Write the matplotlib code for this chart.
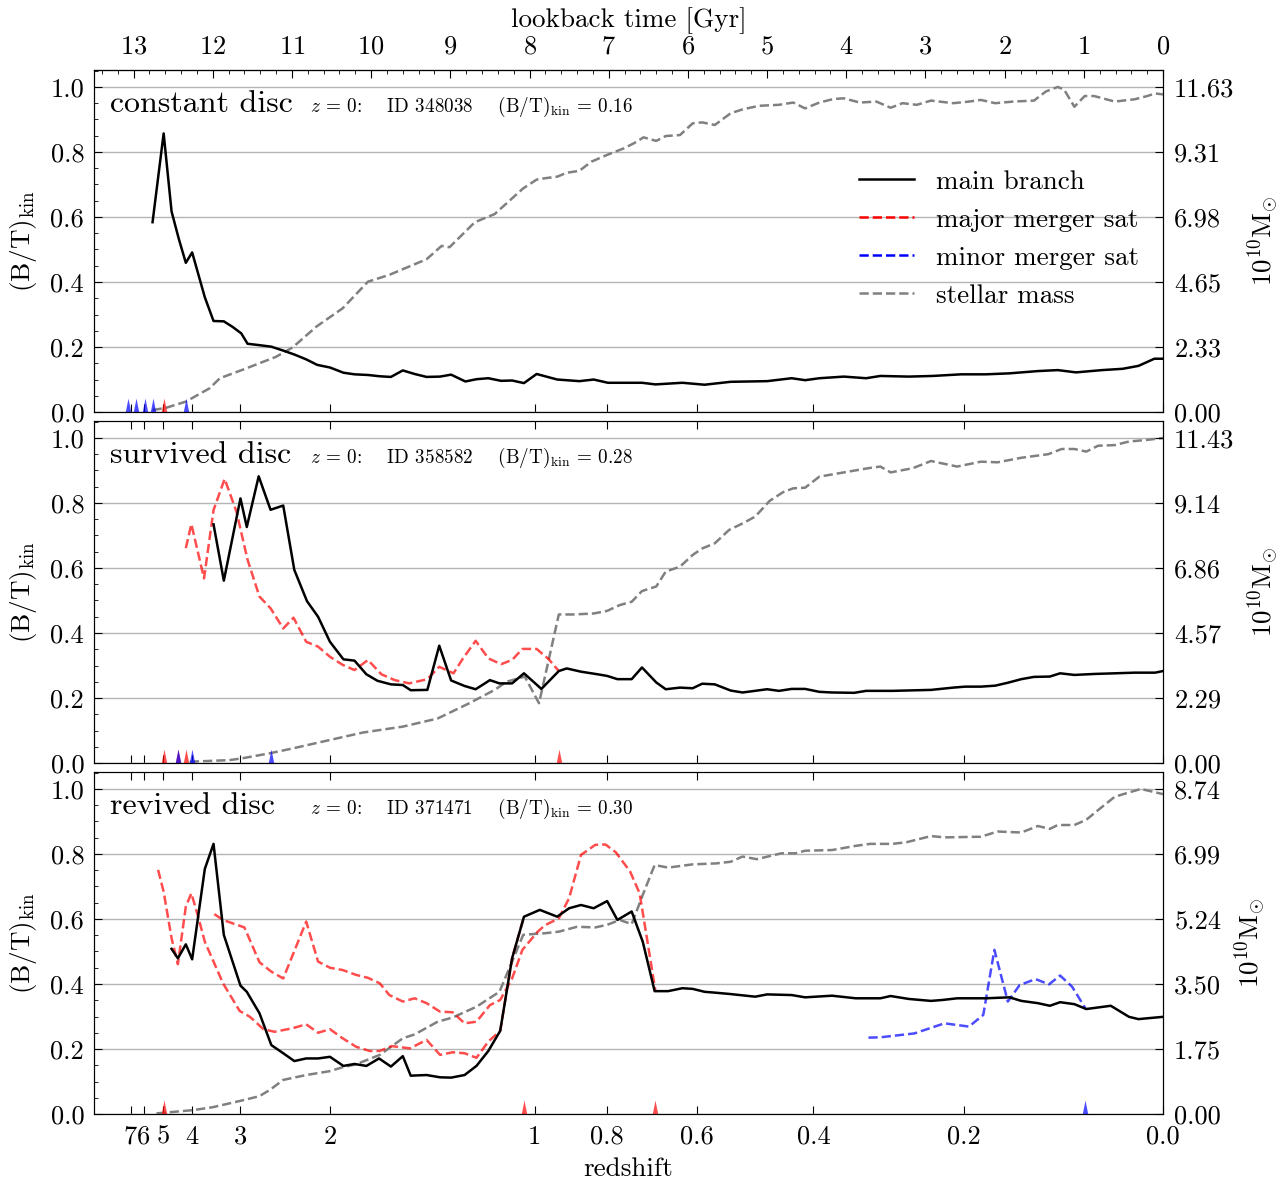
import numpy as np
import matplotlib
matplotlib.use('Agg')
import matplotlib.pyplot as plt
from matplotlib.lines import Line2D
from matplotlib.path import Path
from matplotlib.ticker import MultipleLocator, NullLocator, FixedLocator

plt.rcParams['font.family'] = 'serif'
plt.rcParams['font.serif'] = ['cmr10']
plt.rcParams['mathtext.fontset'] = 'cm'
plt.rcParams['axes.formatter.use_mathtext'] = True
plt.rcParams['font.size'] = 19
plt.rcParams['axes.labelsize'] = 19.5

# ---------------- data (x = lookback time in Gyr) ----------------
# constant disc
c_main_t = [12.76, 12.62, 12.52, 12.43, 12.34, 12.26, 12.10, 11.99, 11.86, 11.75, 11.64, 11.56,
            11.42, 11.26, 11.11, 10.97, 10.82, 10.68, 10.52, 10.35, 10.21, 10.04, 9.89, 9.75,
            9.60, 9.45, 9.30, 9.13, 8.99, 8.81, 8.67, 8.52, 8.36, 8.22, 8.07, 7.91, 7.65, 7.37,
            7.19, 7.01, 6.58, 6.41, 6.07, 5.79, 5.46, 5.00, 4.69, 4.52, 4.34, 4.03, 3.75, 3.57,
            3.21, 2.91, 2.55, 2.24, 1.94, 1.58, 1.33, 1.10, 0.77, 0.51, 0.31, 0.11, 0.00]
c_main_bt = [0.584, 0.857, 0.617, 0.534, 0.459, 0.491, 0.353, 0.280, 0.279, 0.262, 0.242, 0.210,
             0.206, 0.201, 0.189, 0.177, 0.162, 0.145, 0.137, 0.121, 0.116, 0.114, 0.110, 0.108,
             0.128, 0.117, 0.108, 0.109, 0.115, 0.094, 0.101, 0.104, 0.096, 0.097, 0.089, 0.117,
             0.100, 0.095, 0.100, 0.090, 0.090, 0.085, 0.090, 0.084, 0.093, 0.095, 0.104, 0.098,
             0.104, 0.109, 0.104, 0.111, 0.109, 0.111, 0.116, 0.116, 0.119, 0.126, 0.129, 0.122,
             0.129, 0.133, 0.142, 0.164, 0.164]
c_mass_t = [12.76, 12.59, 12.34, 12.04, 11.91, 11.58, 11.20, 10.99, 10.69, 10.36, 10.04, 9.77,
            9.30, 9.11, 9.01, 8.69, 8.44, 8.08, 7.91, 7.81, 7.65, 7.53, 7.37, 7.22, 7.02, 6.81,
            6.68, 6.56, 6.40, 6.28, 6.10, 5.94, 5.82, 5.66, 5.46, 5.31, 5.10, 4.85, 4.67, 4.52,
            4.34, 4.16, 4.03, 3.83, 3.62, 3.44, 3.29, 3.11, 2.93, 2.65, 2.45, 2.30, 2.12, 1.89,
            1.63, 1.48, 1.33, 1.25, 1.12, 0.99, 0.87, 0.61, 0.36, 0.20, 0.10, 0.00]
c_mass = [0.006, 0.013, 0.032, 0.073, 0.104, 0.134, 0.170, 0.199, 0.263, 0.319, 0.401, 0.422,
          0.470, 0.511, 0.507, 0.584, 0.609, 0.688, 0.715, 0.719, 0.724, 0.736, 0.742, 0.770,
          0.791, 0.811, 0.827, 0.845, 0.834, 0.849, 0.852, 0.888, 0.891, 0.883, 0.919, 0.931,
          0.942, 0.945, 0.952, 0.934, 0.952, 0.963, 0.965, 0.952, 0.955, 0.936, 0.950, 0.945,
          0.958, 0.950, 0.955, 0.960, 0.950, 0.955, 0.958, 0.986, 1.000, 0.992, 0.939, 0.972,
          0.972, 0.955, 0.962, 0.972, 0.980, 0.977]
c_tri_major = [12.62]
c_tri_minor = [13.07, 12.97, 12.86, 12.76, 12.34]

# survived disc
s_main_t = [11.99, 11.86, 11.65, 11.57, 11.42, 11.27, 11.11, 10.97, 10.81, 10.67, 10.52, 10.35,
            10.21, 10.06, 9.92, 9.75, 9.60, 9.50, 9.29, 9.14, 8.99, 8.82, 8.68, 8.50, 8.38, 8.22,
            8.07, 7.85, 7.63, 7.53, 7.35, 7.14, 7.02, 6.89, 6.71, 6.58, 6.40, 6.28, 6.10, 5.94,
            5.82, 5.66, 5.46, 5.31, 5.00, 4.85, 4.69, 4.52, 4.34, 4.18, 3.90, 3.75, 3.42, 2.93,
            2.65, 2.50, 2.30, 2.12, 1.96, 1.79, 1.63, 1.43, 1.30, 1.12, 0.87, 0.61, 0.36, 0.10, 0.00]
s_main_bt = [0.734, 0.561, 0.814, 0.726, 0.882, 0.779, 0.792, 0.594, 0.498, 0.450, 0.373, 0.319,
             0.315, 0.273, 0.253, 0.242, 0.240, 0.224, 0.225, 0.361, 0.254, 0.237, 0.227, 0.255,
             0.245, 0.245, 0.276, 0.228, 0.283, 0.291, 0.281, 0.273, 0.268, 0.258, 0.258, 0.294,
             0.248, 0.227, 0.232, 0.230, 0.244, 0.242, 0.223, 0.217, 0.227, 0.222, 0.228, 0.228,
             0.219, 0.217, 0.216, 0.222, 0.222, 0.225, 0.232, 0.235, 0.235, 0.238, 0.247, 0.258,
             0.265, 0.266, 0.276, 0.271, 0.274, 0.276, 0.278, 0.278, 0.283]
s_sat_t = [12.34, 12.27, 12.11, 11.99, 11.85, 11.70, 11.56, 11.41, 11.27, 11.11, 10.98, 10.82,
           10.67, 10.52, 10.36, 10.21, 10.04, 9.87, 9.70, 9.52, 9.29, 9.14, 8.96, 8.84, 8.68,
           8.52, 8.36, 8.22, 8.09, 7.91, 7.76, 7.63]
s_sat_bt = [0.661, 0.735, 0.568, 0.778, 0.874, 0.773, 0.625, 0.512, 0.476, 0.414, 0.447, 0.373,
            0.358, 0.327, 0.302, 0.286, 0.317, 0.273, 0.255, 0.245, 0.258, 0.296, 0.276, 0.322,
            0.376, 0.322, 0.304, 0.317, 0.351, 0.351, 0.320, 0.283]
s_mass_t = [12.29, 11.79, 11.64, 11.28, 10.99, 10.52, 10.10, 9.60, 9.16, 8.76, 8.44, 8.29, 8.06,
            7.88, 7.63, 7.45, 7.19, 7.02, 6.86, 6.71, 6.58, 6.40, 6.28, 6.10, 5.94, 5.82, 5.66,
            5.48, 5.31, 5.15, 4.97, 4.80, 4.67, 4.52, 4.34, 4.03, 3.72, 3.57, 3.44, 3.16, 2.93,
            2.60, 2.30, 2.09, 1.79, 1.45, 1.28, 1.12, 0.97, 0.82, 0.61, 0.43, 0.20, 0.00]
s_mass = [0.004, 0.009, 0.014, 0.030, 0.045, 0.071, 0.094, 0.112, 0.137, 0.184, 0.225, 0.250,
          0.266, 0.184, 0.457, 0.457, 0.460, 0.468, 0.486, 0.496, 0.529, 0.543, 0.589, 0.604,
          0.640, 0.660, 0.676, 0.717, 0.737, 0.758, 0.806, 0.833, 0.845, 0.847, 0.881, 0.894,
          0.907, 0.912, 0.894, 0.907, 0.929, 0.912, 0.927, 0.925, 0.939, 0.950, 0.966, 0.966,
          0.958, 0.976, 0.978, 0.989, 0.994, 1.000]
s_tri_major = [12.62, 12.44, 12.34, 7.63]
s_tri_minor = [12.44, 12.26, 11.26]

# revived disc
r_main_t = [12.52, 12.44, 12.34, 12.26, 12.10, 11.99, 11.86, 11.65, 11.57, 11.41, 11.26, 11.11,
            10.97, 10.82, 10.67, 10.52, 10.35, 10.21, 10.06, 9.90, 9.75, 9.60, 9.50, 9.30, 9.13,
            8.99, 8.82, 8.67, 8.52, 8.37, 8.22, 8.07, 7.87, 7.65, 7.50, 7.35, 7.19, 7.02, 6.89,
            6.71, 6.57, 6.42, 6.25, 6.07, 5.94, 5.79, 5.64, 5.46, 5.15, 5.00, 4.69, 4.52, 4.18,
            3.88, 3.57, 3.44, 3.21, 2.93, 2.78, 2.60, 2.24, 1.94, 1.79, 1.58, 1.43, 1.30, 1.12,
            0.97, 0.66, 0.43, 0.31, 0.00]
r_main_bt = [0.508, 0.479, 0.522, 0.476, 0.754, 0.831, 0.551, 0.395, 0.376, 0.310, 0.212, 0.187,
             0.163, 0.171, 0.171, 0.176, 0.148, 0.154, 0.148, 0.171, 0.146, 0.178, 0.118, 0.120,
             0.113, 0.112, 0.120, 0.148, 0.194, 0.256, 0.479, 0.607, 0.628, 0.607, 0.633, 0.643,
             0.633, 0.655, 0.597, 0.623, 0.530, 0.378, 0.378, 0.387, 0.385, 0.376, 0.373, 0.369,
             0.361, 0.368, 0.366, 0.359, 0.364, 0.356, 0.356, 0.363, 0.354, 0.348, 0.351, 0.356,
             0.356, 0.359, 0.348, 0.341, 0.333, 0.344, 0.338, 0.323, 0.333, 0.299, 0.292, 0.299]
r_sat1_t = [12.69, 12.62, 12.52, 12.44, 12.34, 12.27, 12.19, 12.10, 11.99, 11.87, 11.66, 11.53,
            11.36, 11.22, 10.99, 10.82, 10.67, 10.52, 10.36, 10.19, 10.02, 9.89, 9.74, 9.51,
            9.30, 9.13, 8.97, 8.82, 8.67, 8.52, 8.37, 8.22, 8.07]
r_sat1_bt = [0.751, 0.684, 0.541, 0.461, 0.638, 0.679, 0.612, 0.530, 0.469, 0.402, 0.317, 0.299,
             0.261, 0.253, 0.264, 0.276, 0.250, 0.261, 0.233, 0.207, 0.194, 0.194, 0.209, 0.202,
             0.228, 0.182, 0.190, 0.187, 0.173, 0.223, 0.256, 0.479, 0.607]
r_sat2_t = [11.98, 11.87, 11.60, 11.41, 11.26, 11.11, 10.82, 10.67, 10.52, 10.36, 10.19, 10.04,
            9.89, 9.77, 9.60, 9.45, 9.30, 9.13, 8.97, 8.82, 8.67, 8.50, 8.37, 8.22, 8.09, 7.90,
            7.81, 7.63, 7.50, 7.35, 7.17, 7.04, 6.91, 6.73, 6.61, 6.51, 6.41]
r_sat2_bt = [0.615, 0.597, 0.574, 0.467, 0.438, 0.417, 0.592, 0.469, 0.450, 0.443, 0.428, 0.419,
             0.402, 0.366, 0.346, 0.356, 0.341, 0.315, 0.313, 0.279, 0.284, 0.335, 0.351, 0.417,
             0.505, 0.560, 0.580, 0.602, 0.664, 0.797, 0.828, 0.829, 0.805, 0.746, 0.679, 0.530,
             0.378]
r_sat3_t = [3.72, 3.57, 3.14, 2.76, 2.45, 2.27, 2.13, 1.96, 1.81, 1.61, 1.44, 1.30, 1.15, 0.98]
r_sat3_bt = [0.235, 0.236, 0.248, 0.279, 0.269, 0.305, 0.505, 0.346, 0.397, 0.415, 0.399, 0.426,
             0.392, 0.325]
r_mass_t = [12.71, 12.25, 12.00, 11.66, 11.41, 11.28, 11.11, 10.82, 10.52, 10.36, 10.19, 9.89,
            9.60, 9.45, 9.16, 8.97, 8.67, 8.38, 8.22, 8.08, 7.89, 7.81, 7.63, 7.40, 7.17, 7.02,
            6.86, 6.71, 6.57, 6.42, 6.25, 5.94, 5.64, 5.46, 5.31, 5.13, 4.82, 4.64, 4.52, 4.18,
            3.88, 3.70, 3.42, 3.24, 2.93, 2.76, 2.30, 2.09, 1.79, 1.58, 1.43, 1.33, 1.12, 0.97,
            0.82, 0.61, 0.46, 0.28, 0.00]
r_mass = [0.002, 0.012, 0.021, 0.040, 0.055, 0.074, 0.105, 0.120, 0.132, 0.144, 0.153, 0.182,
          0.233, 0.245, 0.284, 0.297, 0.330, 0.376, 0.469, 0.551, 0.555, 0.556, 0.561, 0.576,
          0.574, 0.582, 0.597, 0.584, 0.674, 0.766, 0.758, 0.768, 0.771, 0.776, 0.792, 0.784,
          0.802, 0.802, 0.810, 0.812, 0.825, 0.831, 0.831, 0.836, 0.855, 0.851, 0.853, 0.869,
          0.866, 0.886, 0.877, 0.889, 0.889, 0.905, 0.935, 0.976, 0.987, 1.000, 0.984]
r_tri_major = [12.62, 8.07, 6.42]
r_tri_minor = [0.98]

names = ['constant disc', 'survived disc', 'revived disc']
ids = ['348038', '358582', '371471']
bt_z0 = ['0.16', '0.28', '0.30']
mass_max = [11.635, 11.43, 8.74]

z_ticks = [7, 6, 5, 4, 3, 2, 1, 0.8, 0.6, 0.4, 0.2, 0.0]
z_labels = ['7', '6', '5', '4', '3', '2', '1', '0.8', '0.6', '0.4', '0.2', '0.0']


def lookback(z):
    # flat LCDM, Planck 2015 (TNG) parameters
    H0, om = 67.74, 0.3089
    zz = np.linspace(0, z, 4000)
    f = 1.0 / ((1 + zz) * np.sqrt(om * (1 + zz) ** 3 + 1 - om))
    return 977.8 / H0 * np.trapezoid(f, zz)


panels = [
    dict(main=(c_main_t, c_main_bt), major=[], minor=[], mass=(c_mass_t, c_mass),
         tmaj=c_tri_major, tmin=c_tri_minor),
    dict(main=(s_main_t, s_main_bt), major=[(s_sat_t, s_sat_bt)], minor=[], mass=(s_mass_t, s_mass),
         tmaj=s_tri_major, tmin=s_tri_minor),
    dict(main=(r_main_t, r_main_bt), major=[(r_sat1_t, r_sat1_bt), (r_sat2_t, r_sat2_bt)],
         minor=[(r_sat3_t, r_sat3_bt)], mass=(r_mass_t, r_mass),
         tmaj=r_tri_major, tmin=r_tri_minor),
]

tri = Path([(-0.4, 0), (0.4, 0), (0, 2), (-0.4, 0)],
           [Path.MOVETO, Path.LINETO, Path.LINETO, Path.CLOSEPOLY])

fig, axes = plt.subplots(3, 1, figsize=(12.87, 11.81), dpi=100, sharex=True)
fig.subplots_adjust(left=0.073, right=0.9037, top=0.9407, bottom=0.0567, hspace=0.0263)

z_pos = [lookback(z) for z in z_ticks]
lw = 1.8

for i, (ax, p) in enumerate(zip(axes, panels)):
    ax.plot(*p['main'], color='k', lw=lw, zorder=5)
    for t, v in p['major']:
        ax.plot(t, v, color='r', ls='--', lw=lw, alpha=0.7, zorder=4)
    for t, v in p['minor']:
        ax.plot(t, v, color='b', ls='--', lw=lw, alpha=0.7, zorder=4)
    ax.plot(*p['mass'], color='gray', ls='--', lw=lw, zorder=3)
    ax.plot(p['tmaj'], np.zeros(len(p['tmaj'])), ls='none', marker=tri, ms=20,
            color='r', alpha=0.7, mew=0, zorder=6)
    ax.plot(p['tmin'], np.zeros(len(p['tmin'])), ls='none', marker=tri, ms=20,
            color='b', alpha=0.7, mew=0, zorder=6)

    ax.set_ylim(0, 1.052)
    ax.set_xlim(13.5, 0)
    ax.yaxis.set_major_locator(FixedLocator([0, 0.2, 0.4, 0.6, 0.8, 1.0]))
    ax.yaxis.set_minor_locator(MultipleLocator(0.05))
    ax.set_yticklabels(['0.0', '0.2', '0.4', '0.6', '0.8', '1.0'])
    ax.yaxis.grid(True, which='major', color='#b4b4b4', lw=1.0)
    ax.set_axisbelow(True)
    ax.set_ylabel('(B/T)$_{\\rm kin}$', labelpad=8)

    ax.set_xticks(z_pos)
    ax.set_xticklabels(z_labels)
    ax.xaxis.set_minor_locator(NullLocator())
    ax.tick_params(axis='y', which='both', direction='in', left=True, right=False, pad=7)
    ax.tick_params(axis='y', which='major', length=6)
    ax.tick_params(axis='y', which='minor', length=3)
    ax.tick_params(axis='x', which='major', direction='in', length=6, bottom=True,
                   top=(i > 0), labelbottom=(i == 2), pad=8)

    ax2 = ax.twinx()
    ax2.set_ylim(0, 1.052)
    ax2.yaxis.set_major_locator(FixedLocator([0, 0.2, 0.4, 0.6, 0.8, 1.0]))
    ax2.set_yticklabels(['%.2f' % (mass_max[i] * f) for f in [0, 0.2, 0.4, 0.6, 0.8, 1.0]])
    ax2.tick_params(axis='y', direction='in', length=6, pad=8)
    ax2.set_ylabel('$10^{10}$M$_{\\odot}$', labelpad=8)

    ax.text(0.015, 0.877, names[i], transform=ax.transAxes, fontsize=23, va='baseline')
    ax.text(0.202, 0.877, '$z$ = 0:    ID %s    (B/T)$_{\\rm kin}$ = %s' % (ids[i], bt_z0[i]),
            transform=ax.transAxes, fontsize=13.8, va='baseline')

axes[2].set_xlabel('redshift', labelpad=6)

sec = axes[0].secondary_xaxis('top', functions=(lambda x: x, lambda x: x))
sec.set_xticks(range(0, 14))
sec.xaxis.set_minor_locator(MultipleLocator(0.2))
sec.tick_params(which='major', direction='in', length=6, pad=8)
sec.tick_params(which='minor', direction='in', length=3)
sec.set_xlabel('lookback time [Gyr]', labelpad=6)

handles = [Line2D([0], [0], color='k', lw=lw),
           Line2D([0], [0], color='r', ls='--', lw=lw),
           Line2D([0], [0], color='b', ls='--', lw=lw),
           Line2D([0], [0], color='gray', ls='--', lw=lw)]
axes[0].legend(handles, ['main branch', 'major merger sat', 'minor merger sat', 'stellar mass'],
               loc='upper left', bbox_to_anchor=(0.705, 0.74), frameon=False,
               borderaxespad=0, handlelength=2.05, labelspacing=0.52, fontsize=19.5)

fig.savefig('out.png', dpi=100)
